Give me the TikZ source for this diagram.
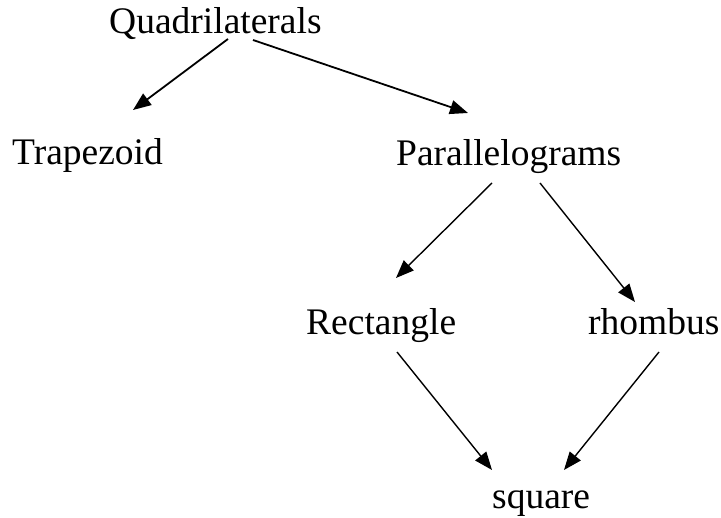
\documentclass[tikz,border=0pt]{standalone}
\usepackage{fontspec}
\setmainfont{Liberation Serif}
\usetikzlibrary{arrows.meta}
\begin{document}
\begin{tikzpicture}[x=1pt,y=-1pt,
  lbl/.style={anchor=base west,inner sep=0pt,font=\fontsize{37.5}{44}\selectfont},
  arr/.style={-{Triangle[length=18pt,width=14pt]},line width=1.4pt},
  thick arr/.style={arr,line width=1.8pt}]
\useasboundingbox (0,0) rectangle (721,518);
\node[lbl] (quad) at (109,34) {Quadrilaterals};
\node[lbl] (trap) at (12,165) {Trapezoid};
\node[lbl] (para) at (396,166) {Parallelograms};
\node[lbl] (rect) at (306,335) {Rectangle};
\node[lbl] (rhom) at (588,335) {rhombus};
\node[lbl] (sq) at (492,509) {square};
\coordinate (q1) at (228,39);
\coordinate (q2) at (253,40);
\coordinate (t1) at (133,110);
\coordinate (p0) at (468,113);
\coordinate (p1) at (492,183);
\coordinate (p2) at (540,183);
\coordinate (r0) at (396,278);
\coordinate (h0) at (635,302);
\coordinate (r1) at (397,352);
\coordinate (h1) at (659,352);
\coordinate (s1) at (492,470);
\coordinate (s2) at (564,470);
\draw[thick arr] (q1) -- (t1);
\draw[thick arr] (q2) -- (p0);
\draw[arr] (p1) -- (r0);
\draw[arr] (p2) -- (h0);
\draw[arr] (r1) -- (s1);
\draw[arr] (h1) -- (s2);
\end{tikzpicture}
\end{document}
